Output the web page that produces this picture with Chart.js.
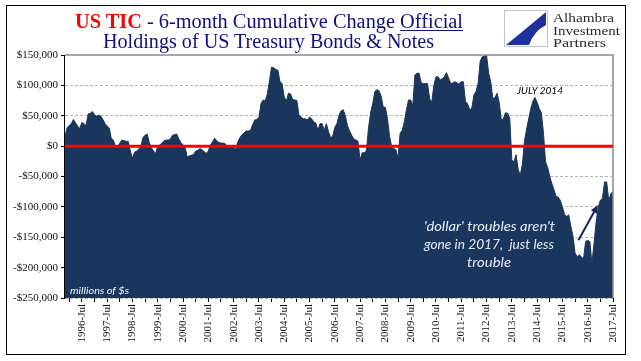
<!DOCTYPE html>
<html lang="en">
<head>
<meta charset="UTF-8" />
<title>US TIC - 6-month Cumulative Change Official Holdings</title>
<script src="https://cdn.jsdelivr.net/npm/chart.js"></script>
<style>
  * { margin: 0; padding: 0; box-sizing: border-box; }
  body { background: #fff; width: 641px; height: 361px; overflow: hidden; }
  .wrap { position: relative; width: 641px; height: 361px; }
  canvas { position: absolute; left: 0; top: 0; }
  .frame { position: absolute; left: 6px; top: 5px; width: 620px; height: 350px; border: 1.5px solid #000; }
  .txt { position: absolute; white-space: nowrap; line-height: 1; transform-origin: left center; }
  .title { font-family: 'Liberation Serif', serif; font-size: 20px; color: #0f0f85; }
  .title .red { color: #ff0000; font-weight: bold; }
  .title u { text-decoration-thickness: 1px; text-underline-offset: 2px; }
  .logoTxt { font-family: 'Liberation Serif', serif; font-size: 13px; color: #2a2a2a; }
  .note { font-family: Lato, sans-serif; font-style: italic; font-size: 10px; color: #000; }
  .units { font-family: Lato, sans-serif; font-style: italic; font-size: 10px; color: #f4f6fb; }
  .dollar { font-family: Lato, sans-serif; font-style: italic; font-size: 14px; color: #e6ecf7; }
  .logo { position: absolute; left: 504px; top: 10px; }
</style>
</head>
<body>
<div class="wrap">
  <canvas id="ticChart" width="641" height="361"></canvas>
  <div class="frame"></div>

  <div id="t1" class="txt title"><span class="red">US TIC</span> - 6-month Cumulative Change <u>Official</u></div>
  <div id="t2" class="txt title">Holdings of US Treasury Bonds &amp; Notes</div>

  <svg class="logo" width="44" height="37" viewBox="0 0 44 37">
    <rect x="0.5" y="0.5" width="43" height="36" fill="#fff" stroke="#c4c4c4" />
    <path d="M42 2 L2 35 L42 35 Z" fill="#1f2f9c" />
    <path d="M25 35 Q30 21 42 15 L42 35 Z" fill="#fff" />
  </svg>
  <div id="l1" class="txt logoTxt">Alhambra</div>
  <div id="l2" class="txt logoTxt">Investment</div>
  <div id="l3" class="txt logoTxt">Partners</div>

  <div id="july" class="txt note">JULY 2014</div>
  <div id="units" class="txt units">millions of $s</div>
  <div id="d1" class="txt dollar">'dollar' troubles aren't</div>
  <div id="d2" class="txt dollar">gone in 2017,&nbsp; just less</div>
  <div id="d3" class="txt dollar">trouble</div>
</div>

<script>
  // monthly series, first point Nov 1995, last point Jul 2017 ($ millions)
  const startYear = 1995;
  const startMonth = 10; // 0-based, Nov
  const monthNames = ['Jan', 'Feb', 'Mar', 'Apr', 'May', 'Jun', 'Jul', 'Aug', 'Sep', 'Oct', 'Nov', 'Dec'];

  const holdings = [
    16000, 30000,
    34000, 37000, 44000, 38000, 33000, 29000, 39000, 37000, 34000, 53000, 54000, 57000,
    52000, 49000, 51000, 49000, 44000, 37000, 33000, 30000, 12000, 10000, -3000, -2000,
    5000, 10000, 9000, 8000, 8000, -8000, -20000, -10000, -8000, -5000, 0, 14000,
    18000, 20000, 6000, -3000, -8000, -12000, 0, 2000, 5000, 9000, 10000, 10000,
    12000, 18000, 19000, 20000, 12000, 6000, 2000, -2000, -18000, -16000, -15000, -14000,
    -8000, -7000, -4000, -6000, -9000, -12000, -8000, 2000, 7000, 13000, 9000, 6000,
    5000, 5000, 4000, -2000, 1000, 0, -2000, -5000, 7000, 14000, 19000, 22000,
    25000, 25000, 26000, 35000, 43000, 44000, 47000, 70000, 76000, 74000, 86000, 107000,
    130000, 129000, 126000, 125000, 106000, 103000, 81000, 74000, 87000, 86000, 77000, 76000,
    75000, 51000, 48000, 45000, 45000, 43000, 48000, 45000, 40000, 38000, 26000, 37000,
    37000, 26000, 37000, 24000, 14000, 16000, 31000, 37000, 51000, 58000, 60000, 50000,
    34000, 25000, 18000, 12000, 10000, 8000, -23000, -11000, -11000, -8000, 30000, 55000,
    70000, 90000, 93000, 91000, 82000, 64000, 64000, 45000, 16000, -1000, -4000, -6000,
    -20000, 21000, 26000, 40000, 60000, 76000, 76000, 67000, 117000, 120000, 120000, 104000,
    103000, 103000, 103000, 78000, 72000, 100000, 114000, 114000, 109000, 111000, 114000, 121000,
    112000, 103000, 104000, 106000, 104000, 102000, 106000, 106000, 73000, 70000, 60000, 62000,
    84000, 90000, 103000, 140000, 147000, 148000, 150000, 120000, 106000, 78000, 80000, 87000,
    72000, 43000, 45000, 55000, 54000, 46000, -23000, -26000, -14000, -38000, -48000, -30000,
    8000, 28000, 45000, 62000, 74000, 80000, 72000, 62000, 55000, 22000, -26000, -35000,
    -50000, -62000, -72000, -83000, -84000, -89000, -100000, -112000, -116000, -113000, -132000, -148000,
    -176000, -182000, -179000, -182000, -186000, -157000, -155000, -157000, -193000, -160000, -125000, -100000,
    -89000, -86000, -59000, -59000, -90000, -78000, -75000
  ];

  const yMin = -250000;
  const yMax = 150000;
  const yStep = 50000;

  // arrow annotation, in (month index, value)
  const arrowFrom = { idx: 243.6, value: -155000 };
  const arrowTo = { idx: 252.8, value: -97000 };

  const NAVY = '#1b365d';

  const monthOf = i => (startMonth + i) % 12;
  const monthLabels = holdings.map((_, i) => {
    const m = startMonth + i;
    return (startYear + Math.floor(m / 12)) + '-' + monthNames[m % 12];
  });

  const money = v => (v < 0 ? '-$' : '$') + Math.abs(v).toLocaleString('en-US');

  const overlay = {
    id: 'overlay',
    afterDatasetsDraw(chart) {
      const { ctx, chartArea: a, scales: { x, y } } = chart;
      ctx.save();
      // plot frame, top and right
      ctx.strokeStyle = '#8a8a8a';
      ctx.lineWidth = 1.5;
      ctx.beginPath();
      ctx.moveTo(a.left, a.top);
      ctx.lineTo(a.right, a.top);
      ctx.lineTo(a.right, a.bottom);
      ctx.stroke();
      // left axis
      ctx.strokeStyle = '#000';
      ctx.lineWidth = 1;
      ctx.beginPath();
      ctx.moveTo(a.left - 0.5, a.top);
      ctx.lineTo(a.left - 0.5, a.bottom);
      ctx.stroke();
      // zero line
      const y0 = y.getPixelForValue(0);
      ctx.strokeStyle = '#ff0000';
      ctx.lineWidth = 3;
      ctx.beginPath();
      ctx.moveTo(a.left, y0);
      ctx.lineTo(a.right, y0);
      ctx.stroke();
      // arrow
      const x1 = x.getPixelForValue(arrowFrom.idx), y1 = y.getPixelForValue(arrowFrom.value);
      const x2 = x.getPixelForValue(arrowTo.idx), y2 = y.getPixelForValue(arrowTo.value);
      const ang = Math.atan2(y2 - y1, x2 - x1);
      ctx.strokeStyle = '#16285a';
      ctx.fillStyle = '#16285a';
      ctx.lineWidth = 2;
      ctx.beginPath();
      ctx.moveTo(x1, y1);
      ctx.lineTo(x2 - 5 * Math.cos(ang), y2 - 5 * Math.sin(ang));
      ctx.stroke();
      ctx.beginPath();
      ctx.moveTo(x2, y2);
      ctx.lineTo(x2 - 8 * Math.cos(ang) + 3.5 * Math.sin(ang), y2 - 8 * Math.sin(ang) - 3.5 * Math.cos(ang));
      ctx.lineTo(x2 - 8 * Math.cos(ang) - 3.5 * Math.sin(ang), y2 - 8 * Math.sin(ang) + 3.5 * Math.cos(ang));
      ctx.closePath();
      ctx.fill();
      ctx.restore();
    }
  };

  new Chart(document.getElementById('ticChart'), {
    type: 'line',
    data: {
      labels: monthLabels,
      datasets: [{
        data: holdings,
        fill: 'start',
        backgroundColor: NAVY,
        borderColor: NAVY,
        borderWidth: 1,
        pointRadius: 0,
        tension: 0
      }]
    },
    options: {
      responsive: false,
      animation: false,
      layout: { padding: { top: 55, right: 28, left: 0, bottom: 0 } },
      plugins: { legend: { display: false }, tooltip: { enabled: false } },
      scales: {
        x: {
          ticks: {
            autoSkip: false,
            minRotation: 90,
            maxRotation: 90,
            padding: 2,
            color: '#111',
            font: { family: 'Liberation Serif', size: 11 },
            callback: (v, i) => monthOf(i) === 6 ? monthLabels[i] : ''
          },
          grid: {
            drawOnChartArea: false,
            tickLength: 4,
            tickColor: c => (monthOf(c.index) === 0 || monthOf(c.index) === 6) ? '#000' : 'rgba(0,0,0,0)'
          },
          border: { display: false },
          afterFit: s => { s.height = 63; }
        },
        y: {
          min: yMin,
          max: yMax,
          ticks: {
            stepSize: yStep,
            padding: 3,
            color: '#111',
            font: { family: 'Liberation Serif', size: 11 },
            callback: v => money(v)
          },
          grid: {
            color: c => (c.tick && (c.tick.value === 0 || c.tick.value === yMax)) ? 'rgba(0,0,0,0)' : '#b3b3b3',
            lineWidth: 1,
            tickLength: 4,
            tickColor: '#000',
            borderDash: [3, 2]
          },
          border: { display: false, dash: [3, 2] },
          afterFit: s => { s.width = 65; }
        }
      }
    },
    plugins: [overlay]
  });

  // place text to match reference positions
  function place(id, left, top, w, centered) {
    const el = document.getElementById(id);
    const nat = el.getBoundingClientRect().width;
    el.style.left = (centered ? left - w / 2 : left) + 'px';
    el.style.top = top + 'px';
    if (w) el.style.transform = 'scaleX(' + (w / nat) + ')';
  }
  place('t1', 268.5, 11, 388, true);
  place('t2', 268.5, 31, 331, true);
  place('l1', 553, 11, 61, false);
  place('l2', 553, 24, 67, false);
  place('l3', 553, 36, 53, false);
  place('july', 540, 84.5, 46, true);
  place('units', 70, 285, 59, false);
  place('d1', 489, 219, 131, true);
  place('d2', 489, 236.5, 130, true);
  place('d3', 489, 254.5, 44, true);
</script>
</body>
</html>
